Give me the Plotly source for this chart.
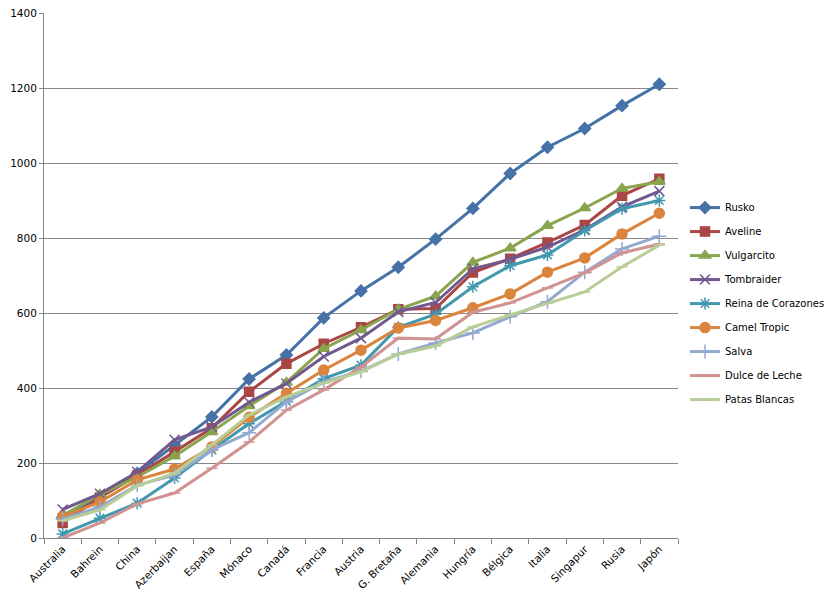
import plotly.graph_objects as go

categories = ["Australia", "Bahrein", "China", "Azerbaijan", "España", "Mónaco", "Canadá",
              "Francia", "Austria", "G. Bretaña", "Alemania", "Hungría", "Bélgica", "Italia",
              "Singapur", "Rusia", "Japón"]

rusko = [55, 110, 172, 248, 323, 424, 488, 587, 659, 722, 797, 879, 972, 1042, 1092, 1153, 1210]
aveline = [40, 108, 167, 230, 293, 390, 465, 518, 562, 610, 612, 708, 745, 788, 835, 913, 958]
vulgarcito = [60, 116, 163, 218, 283, 352, 415, 505, 555, 610, 645, 735, 773, 833, 880, 932, 950]
tombraider = [76, 118, 176, 262, 296, 362, 412, 484, 533, 603, 628, 718, 743, 776, 822, 883, 925]
reina = [11, 53, 93, 160, 235, 305, 365, 425, 461, 562, 597, 670, 726, 755, 820, 878, 900]
camel = [57, 96, 155, 184, 243, 322, 386, 448, 501, 560, 580, 614, 651, 709, 747, 811, 866]
salva = [50, 83, 141, 168, 235, 281, 363, 416, 445, 491, 520, 547, 590, 630, 709, 771, 805]
dulce = [0, 40, 91, 120, 186, 256, 341, 395, 456, 533, 531, 602, 627, 667, 707, 760, 784]
patas = [46, 75, 139, 173, 248, 328, 376, 413, 443, 490, 512, 563, 595, 626, 656, 723, 781]

series = [
    ("Rusko", rusko, "#4572A7", "diamond", 9),
    ("Aveline", aveline, "#AA4643", "square", 9),
    ("Vulgarcito", vulgarcito, "#89A54E", "triangle-up", 10),
    ("Tombraider", tombraider, "#71588F", "x-thin-open", 10),
    ("Reina de Corazones", reina, "#4198AF", "asterisk-open", 10),
    ("Camel Tropic", camel, "#DB843D", "circle", 10),
    ("Salva", salva, "#93A9CF", "cross-thin-open", 10),
    ("Dulce de Leche", dulce, "#D19392", "line-ew-open", 8),
    ("Patas Blancas", patas, "#B9CD96", "line-ew-open", 8),
]

fig = go.Figure()
for name, vals, color, sym, size in series:
    fig.add_trace(go.Scatter(
        x=categories, y=vals, name=name, mode="lines+markers",
        line=dict(color=color, width=3),
        marker=dict(symbol=sym, size=size, color=color,
                    line=dict(color=color, width=1.5)),
        legendgroup=name,
    ))

W, L, R = 838, 44, 0
plot_w = W - L - R
fig.update_layout(
    width=W, height=603,
    margin=dict(l=L, r=R, t=13, b=65),
    paper_bgcolor="white", plot_bgcolor="white",
    font=dict(family="DejaVu Sans", size=10, color="black"),
    legend=dict(x=(685 - L) / plot_w, y=0.657, xanchor="left", yanchor="top",
                traceorder="grouped", tracegroupgap=5, borderwidth=0,
                font=dict(family="DejaVu Sans", size=10),
                itemwidth=30, bgcolor="rgba(0,0,0,0)"),
    xaxis=dict(type="category", domain=[0, (678 - L) / plot_w], automargin=False,
               showgrid=False, showline=True, linecolor="#868686",
               linewidth=1, ticks="outside", tickson="boundaries", ticklen=5,
               tickcolor="#868686", tickangle=-45, tickfont=dict(size=10.5),
               range=[-0.5, 16.5]),
    yaxis=dict(range=[0, 1400], dtick=200, showgrid=True, gridcolor="#868686",
               gridwidth=1, showline=True, linecolor="#868686", linewidth=1,
               automargin=False,
               ticks="outside", ticklen=4, tickcolor="#868686",
               tickfont=dict(size=10.5), zeroline=False),
)

fig.write_html("out.html")
